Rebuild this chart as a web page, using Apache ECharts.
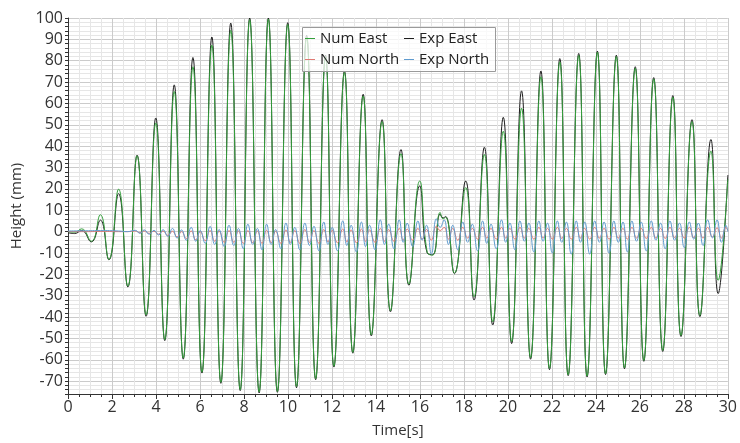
<!DOCTYPE html>
<html>
<head>
<meta charset="utf-8">
<script src="https://cdn.jsdelivr.net/npm/echarts@6/dist/echarts.min.js"></script>
<style>
html,body{margin:0;padding:0;background:#fff;}
#chart{width:740px;height:443px;}
</style>
</head>
<body>
<div id="chart"></div>
<script>
// ---- Data ----
const xTicks = [0, 2, 4, 6, 8, 10, 12, 14, 16, 18, 20, 22, 24, 26, 28, 30];
const yTicks = [-70, -60, -50, -40, -30, -20, -10, 0, 10, 20, 30, 40, 50, 60, 70, 80, 90, 100];

// East: times of the turning points (s)
const eastT = [0, 0.3, 0.62,
  1.06, 1.47, 1.86, 2.30, 2.72, 3.14, 3.55, 3.99, 4.40, 4.83, 5.24, 5.68, 6.09, 6.54, 6.95, 7.40, 7.83, 8.26, 8.69, 9.11, 9.52, 9.99,
  10.39, 10.85, 11.26, 11.71, 12.09, 12.57, 12.95, 13.42, 13.79, 14.28, 14.66, 15.14, 15.50, 15.99,
  16.33, 16.58, 16.92, 17.05, 17.17, 17.57,
  18.08, 18.46, 18.93, 19.31, 19.79, 20.17, 20.62, 21.03, 21.50, 21.89, 22.36, 22.74, 23.22, 23.60, 24.07, 24.44,
  24.93, 25.30, 25.79, 26.18, 26.63, 27.04, 27.50, 27.87, 28.37, 28.73, 29.23, 29.56, 30];

const numEast = [0, -0.3, 1.3,
  -4.5, 7.9, -13.0, 19.9, -25.5, 35.5, -39.0, 50.9, -50.5, 65.6, -59.2, 77.2, -65.8, 87.3, -70.5, 94.2, -74.0, 99.2, -75.0, 99.5, -74.8, 97.0,
  -72.5, 91.0, -68.8, 82.0, -63.0, 74.5, -56.5, 63.5, -48.3, 51.5, -37.0, 36.5, -24.6, 23.7,
  -9.6, -11.0, 9.0, 6.0, 6.7, -19.4,
  20.6, -30.5, 36.1, -42.2, 47.0, -51.5, 57.8, -59.0, 72.5, -64.0, 79.5, -67.0, 82.5, -67.6, 84.0, -66.5,
  82.0, -63.8, 76.5, -60.3, 71.5, -55.6, 63.0, -48.6, 51.5, -39.2, 37.7, -22.8, 24.5];

const expEast = [-0.5, -0.9, 0.5,
  -4.8, 5.4, -13.2, 17.8, -25.9, 35.8, -39.6, 53.2, -51.0, 68.7, -59.7, 81.5, -66.2, 91.1, -71.0, 97.6, -74.4, 100, -75.5, 100, -75.2, 97.8,
  -73.1, 91.9, -69.3, 82.6, -63.4, 75.2, -56.9, 64.3, -48.8, 52.4, -37.5, 38.4, -25.1, 21.4,
  -10.0, -10.8, 8.2, 6.4, 7.1, -19.7,
  23.7, -32.0, 39.5, -43.7, 53.5, -52.4, 65.9, -59.7, 75.2, -64.6, 81.0, -67.4, 83.4, -68.0, 84.5, -66.9,
  82.6, -64.2, 77.2, -60.7, 72.1, -56.1, 63.7, -49.1, 52.4, -39.8, 43.1, -29.0, 26.5];

// North: times of the turning points (s)
const northT = [0, 0.8, 1.6, 2.3, 2.7,
  3.06, 3.27, 3.47, 3.69, 3.91, 4.12, 4.32, 4.54,
  4.75, 4.96, 5.16, 5.38, 5.60, 5.81, 6.01, 6.24,
  6.46, 6.67, 6.87, 7.10, 7.32, 7.54, 7.75, 7.97, 8.18, 8.40, 8.61, 8.82, 9.03, 9.24, 9.44, 9.68, 9.91, 10.11,
  10.31, 10.54, 10.77, 10.98, 11.18, 11.41, 11.63, 11.82, 12.01, 12.25, 12.49, 12.68, 12.87, 13.11, 13.34, 13.53, 13.71, 13.96, 14.20, 14.39, 14.58, 14.82, 15.06, 15.24, 15.42, 15.67,
  15.91, 16.10, 16.30, 16.52, 16.75, 16.92, 17.10, 17.30, 17.49, 17.72, 17.95, 18.17, 18.38, 18.62, 18.85, 19.04, 19.23, 19.47, 19.71, 19.90,
  20.09, 20.32, 20.55, 20.75, 20.95, 21.18, 21.41, 21.60, 21.80, 22.02, 22.25, 22.45, 22.66, 22.88, 23.11, 23.30, 23.49, 23.72, 23.95, 24.16,
  24.37, 24.60, 24.82, 25.02, 25.23, 25.43, 25.64, 25.85, 26.06, 26.29, 26.52, 26.73, 26.94, 27.15, 27.37, 27.58, 27.80, 28.02, 28.25, 28.45,
  28.66, 28.87, 29.08, 29.30, 29.51, 29.71, 29.91,
  30];

const numNorth = [0, 0, 0.1, 0, 0,
  0.3, -0.5, 0.3, -0.8, 0.2, -1.2, 0.3, -1.8,
  0.2, -2.5, 0.0, -3.2, 0.3, -3.8, 0.0, -4.2,
  0.5, -4.5, 0.2, -5.0, 0.5, -5.0, 0.3, -5.5, 0.5, -5.2, 0.3, -5.5, 0.6, -5.2, 0.2, -5.5, 0.8, -5.0,
  0.5, -5.5, 1.0, -5.0, 0.5, -5.5, 1.0, -4.8, 0.6, -5.2, 1.2, -4.8, 0.8, -5.2, 1.2, -4.5, 0.8, -5.0, 1.5, -4.5, 1.0, -4.5, 1.5, -4.0, 1.2, -4.0,
  1.5, -3.5, 1.0, -4.0, 2.5, 0.5, 2.0, -3.5, 1.5, -4.0, 2.0, -3.0, 1.5, -3.5, 2.0, -3.0, 1.5, -3.5, 2.0, -3.0,
  1.5, -3.5, 2.0, -3.0, 1.5, -3.5, 2.0, -3.0, 1.5, -3.5, 2.0, -3.2, 1.5, -3.5, 2.0, -3.0, 1.5, -3.5, 2.0, -3.0,
  1.5, -3.5, 2.0, -3.0, 1.5, -3.5, 2.0, -3.0, 1.5, -3.2, 2.0, -3.0, 1.5, -3.2, 2.0, -2.8, 1.5, -3.0, 2.0, -2.8,
  1.5, -3.0, 2.0, -2.5, 1.8, -3.0, 2.0,
  0.5];

const expNorth = [0.3, 0.4, 0.5, 0.3, 0.0,
  0.6, -0.8, 0.8, -1.2, 0.6, -1.6, 0.9, -2.2,
  1.5, -3.0, 0.8, -4.0, 2.0, -4.5, 0.5, -5.5,
  2.5, -6.0, 1.0, -7.0, 3.0, -6.5, 1.5, -8.0, 3.5, -6.0, 1.5, -8.5, 3.5, -6.0, 1.0, -8.0, 4.0, -6.0,
  2.0, -8.5, 4.0, -6.5, 2.5, -9.0, 4.5, -6.0, 2.0, -9.0, 5.0, -6.5, 3.0, -9.5, 4.5, -7.0, 3.0, -8.5, 5.5, -6.0, 3.5, -8.0, 5.5, -5.0, 4.0, -7.0,
  5.0, -4.0, 3.0, -10.5, 6.0, 2.0, 5.5, -6.0, 3.0, -8.5, 4.5, -5.0, 3.5, -9.0, 5.0, -5.5, 3.5, -8.0, 5.5, -5.0,
  4.0, -8.5, 5.0, -4.5, 4.0, -9.5, 5.0, -4.5, 4.0, -10.0, 5.0, -5.0, 4.5, -10.5, 5.0, -5.0, 4.5, -10.5, 5.0, -5.0,
  4.5, -10.0, 5.0, -5.0, 4.5, -9.5, 5.0, -4.5, 4.5, -9.0, 5.0, -4.0, 4.0, -8.0, 5.0, -4.0, 4.0, -7.5, 4.5, -3.5,
  4.0, -6.5, 5.5, -3.0, 5.5, -5.0, 3.0,
  0.0];

const seriesNames = ['Num East', 'Exp East', 'Num North', 'Exp North'];

// ---- Build chart ----
function pairs(ts, vs) {
  const n = Math.min(ts.length, vs.length);
  const out = [];
  for (let i = 0; i < n; i++) out.push([ts[i], vs[i]]);
  return out;
}

const FONT = 'Open Sans';
const chart = echarts.init(document.getElementById('chart'), null, {renderer: 'canvas'});

const minorGrid = '#e6e6e6';
const majorGrid = '#cbcbcb';

const option = {
  backgroundColor: '#ffffff',
  animation: false,
  textStyle: {fontFamily: FONT},
  grid: {left: 68, right: 10, top: 18, bottom: 47, containLabel: false},
  xAxis: {
    type: 'value', min: xTicks[0], max: xTicks[xTicks.length - 1], interval: 2,
    name: 'Time[s]', nameLocation: 'middle', nameGap: 29,
    nameTextStyle: {fontFamily: FONT, fontSize: 15, color: '#333'},
    axisLine: {show: true, onZero: false, lineStyle: {color: '#333', width: 1}},
    axisTick: {show: true, length: 5, lineStyle: {color: '#333'}},
    minorTick: {show: true, splitNumber: 4, length: 3, lineStyle: {color: '#333'}},
    axisLabel: {fontFamily: FONT, fontSize: 16, color: '#333', margin: 5},
    splitLine: {show: true, lineStyle: {color: majorGrid, width: 1}},
    minorSplitLine: {show: true, lineStyle: {color: minorGrid, width: 1}}
  },
  yAxis: {
    type: 'value', min: -76, max: yTicks[yTicks.length - 1], interval: 2,
    name: 'Height (mm)', nameLocation: 'middle', nameGap: 43, nameRotate: 90,
    nameTextStyle: {fontFamily: FONT, fontSize: 15, color: '#333'},
    axisLine: {show: true, onZero: false, lineStyle: {color: '#333', width: 1}},
    axisTick: {show: true, length: 3, lineStyle: {color: '#333'}},
    axisLabel: {
      fontFamily: FONT, fontSize: 16, color: '#333', margin: 5,
      formatter: function (v) { return yTicks.indexOf(Math.round(v)) >= 0 && Math.abs(v - Math.round(v)) < 1e-6 ? String(Math.round(v)) : ''; }
    },
    splitLine: {show: true, lineStyle: {color: [minorGrid, minorGrid, minorGrid, majorGrid, minorGrid], width: 1}}
  },
  legend: [
    {
      data: [seriesNames[0], seriesNames[2]], orient: 'vertical', left: 305, top: 28, padding: 0,
      itemWidth: 10, itemHeight: 1, itemGap: 0, icon: 'rect',
      textStyle: {fontFamily: FONT, fontSize: 15, color: '#222', lineHeight: 21},
      z: 10
    },
    {
      data: [seriesNames[1], seriesNames[3]], orient: 'vertical', left: 404, top: 28, padding: 0,
      itemWidth: 10, itemHeight: 1, itemGap: 0, icon: 'rect',
      textStyle: {fontFamily: FONT, fontSize: 15, color: '#222', lineHeight: 21},
      z: 10
    }
  ],
  graphic: [{
    type: 'rect', left: 302, top: 27, z: 8,
    shape: {width: 193, height: 44},
    style: {fill: 'rgba(255,255,255,0.75)', stroke: '#9a9a9a', lineWidth: 1}
  }],
  series: [
    {name: seriesNames[0], type: 'line', data: pairs(eastT, numEast), smooth: 0.5, showSymbol: false, z: 3,
     lineStyle: {color: '#34a03c', width: 1}, itemStyle: {color: '#34a03c'}},
    {name: seriesNames[1], type: 'line', data: pairs(eastT, expEast), smooth: 0.5, showSymbol: false, z: 2,
     lineStyle: {color: '#1e1e1e', width: 1}, itemStyle: {color: '#1e1e1e'}},
    {name: seriesNames[2], type: 'line', data: pairs(northT, numNorth), smooth: 0.5, showSymbol: false, z: 4,
     lineStyle: {color: '#e07a74', width: 1}, itemStyle: {color: '#e07a74'}},
    {name: seriesNames[3], type: 'line', data: pairs(northT, expNorth), smooth: 0.5, showSymbol: false, z: 5,
     lineStyle: {color: '#5f9bcf', width: 1}, itemStyle: {color: '#5f9bcf'}}
  ]
};
chart.setOption(option);
</script>
</body>
</html>
